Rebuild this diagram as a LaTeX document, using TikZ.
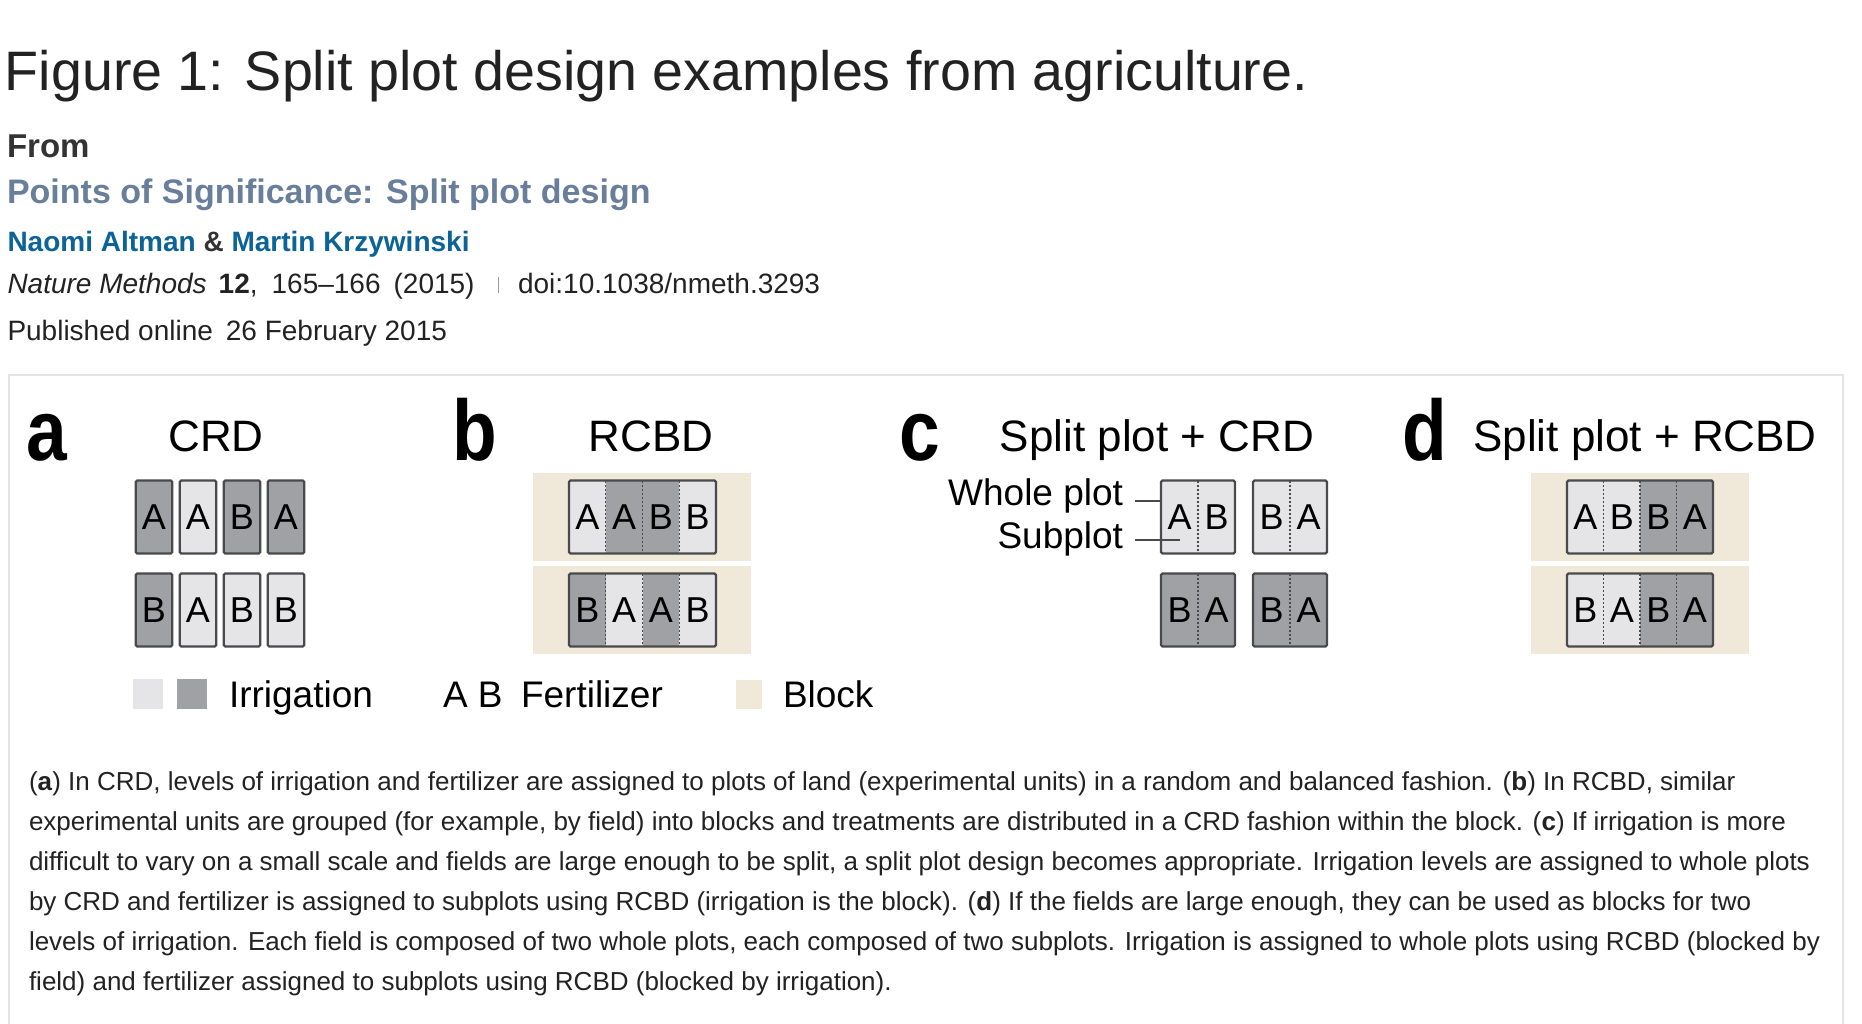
\documentclass[tikz,border=0pt]{standalone}
\usepackage{fontspec}
\setmainfont{Liberation Sans}
\newfontfamily\panelfont{Liberation Sans}[FakeStretch=0.85]
\usepackage{tikz}
\usetikzlibrary{positioning, calc}
\usepackage{xcolor}
\definecolor{inkgrey}{HTML}{222222}
\definecolor{fromgrey}{HTML}{333333}
\definecolor{slateblue}{HTML}{687E9B}
\definecolor{authorblue}{HTML}{0B6397}
\definecolor{sepgrey}{HTML}{9A9A9A}
\definecolor{framegrey}{HTML}{E4E4E4}
\definecolor{lowgrey}{HTML}{E5E5E7}
\definecolor{highgrey}{HTML}{A0A1A5}
\definecolor{cellline}{HTML}{4A4A4C}
\definecolor{blockbeige}{HTML}{F0E8D8}
\newcommand{\pxfont}[1]{\fontsize{#1}{#1}\selectfont}

\begin{document}
\begin{tikzpicture}[x=1pt, y=-1pt, every node/.style={inner sep=0pt, outer sep=0pt, text=inkgrey}]
    % Define styles
    \tikzset{
        plot/.style={rectangle, draw=cellline, line width=2.2pt, rounded corners=1.5pt, minimum width=36.5pt, minimum height=73pt, font=\pxfont{36}, text=black},
        lowplot/.style={plot, fill=lowgrey},
        highplot/.style={plot, fill=highgrey},
        sub/.style={rectangle, minimum width=36.75pt, minimum height=73pt, font=\pxfont{36}, text=black},
        lowsub/.style={sub, fill=lowgrey},
        highsub/.style={sub, fill=highgrey},
        border/.style={draw=cellline, line width=2.2pt, rounded corners=1.5pt},
        divider/.style={draw=cellline, line width=1.4pt, dash pattern=on 2pt off 2pt},
        leader/.style={draw=cellline, line width=1.8pt},
        block/.style={rectangle, fill=blockbeige, minimum width=218pt, minimum height=88pt},
        panel/.style={anchor=base west, font=\panelfont\bfseries\pxfont{86}, text=black},
        head/.style={anchor=base, font=\pxfont{44}, text=black},
        legsq/.style={rectangle, minimum size=30pt},
        legtext/.style={anchor=base west, font=\pxfont{37}, text=black},
        capline/.style={anchor=base west, font=\pxfont{26}}
    }

    \useasboundingbox (0,0) rectangle (1862,1024);
    \fill[white] (0,0) rectangle (1862,1024);

    % --- PAGE HEADER ---
    \node[anchor=base west, font=\pxfont{55.6}] (title) at (5,91) {Figure 1: Split plot design examples from agriculture.};
    \node[anchor=base west, font=\bfseries\pxfont{33}, text=fromgrey] (from) at (7,158) {From};
    \node[anchor=base west, font=\bfseries\pxfont{34}, text=slateblue] (paper) at (7,204) {Points of Significance: Split plot design};
    \node[anchor=base west, font=\bfseries\pxfont{28}, text=fromgrey] (authors) at (7.5,252) {\textcolor{authorblue}{Naomi Altman} \& \textcolor{authorblue}{Martin Krzywinski}};
    \node[anchor=base west, font=\pxfont{28}] (journal) at (7.5,293) {\textit{Nature Methods}\hspace{12pt}\textbf{12},\hspace{14pt}165--166\hspace{13pt}(2015)\hspace{23pt}\textcolor{sepgrey}{\rule{1.5pt}{16pt}}\hspace{19pt}doi:10.1038/nmeth.3293};
    \node[anchor=base west, font=\pxfont{28}] (published) at (7.5,340) {Published online\hspace{13pt}26 February 2015};

    % figure frame
    \draw[framegrey, line width=2pt] (9,1024) -- (9,375) -- (1843,375) -- (1843,1024);

    % --- PANEL A: CRD ---
    \node[panel] (la) at (26,460) {a};
    \node[head] (hcrd) at (216,451) {CRD};
    \node[highplot] (a11) at (154,517) {A};
    \node[lowplot, right=7.5pt of a11] (a12) {A};
    \node[highplot, right=7.5pt of a12] (a13) {B};
    \node[highplot, right=7.5pt of a13] (a14) {A};
    \node[highplot] (a21) at (154,610) {B};
    \node[lowplot, right=7.5pt of a21] (a22) {A};
    \node[lowplot, right=7.5pt of a22] (a23) {B};
    \node[lowplot, right=7.5pt of a23] (a24) {B};

    % --- PANEL B: RCBD ---
    \node[panel] (lb) at (452,460) {b};
    \node[head] (hrcbd) at (651,451) {RCBD};
    \node[block] (bblk1) at (642,517) {};
    \node[block] (bblk2) at (642,610) {};
    \node[lowsub] (b11) at (587.4,517) {A};
    \node[highsub, right=0pt of b11] (b12) {A};
    \node[highsub, right=0pt of b12] (b13) {B};
    \node[lowsub, right=0pt of b13] (b14) {B};
    \node[highsub] (b21) at (587.4,610) {B};
    \node[lowsub, right=0pt of b21] (b22) {A};
    \node[highsub, right=0pt of b22] (b23) {A};
    \node[lowsub, right=0pt of b23] (b24) {B};
    \foreach \r in {1,2}
        \foreach \c in {1,2,3}
            \draw[divider] (b\r\c.north east) -- (b\r\c.south east);
    \draw[border] (b11.north west) rectangle (b14.south east);
    \draw[border] (b21.north west) rectangle (b24.south east);

    % --- PANEL C: SPLIT PLOT + CRD ---
    \node[panel] (lc) at (899,460) {c};
    \node[head] (hspcrd) at (1157,451) {Split plot + CRD};
    \node[lowsub, minimum width=37pt] (c11) at (1179.5,517) {A};
    \node[lowsub, minimum width=37pt, right=0pt of c11] (c12) {B};
    \node[lowsub, minimum width=37pt] (c13) at (1271.5,517) {B};
    \node[lowsub, minimum width=37pt, right=0pt of c13] (c14) {A};
    \node[highsub, minimum width=37pt] (c21) at (1179.5,610) {B};
    \node[highsub, minimum width=37pt, right=0pt of c21] (c22) {A};
    \node[highsub, minimum width=37pt] (c23) at (1271.5,610) {B};
    \node[highsub, minimum width=37pt, right=0pt of c23] (c24) {A};
    \foreach \r in {1,2}
        \foreach \c in {1,3}
            \draw[divider] (c\r\c.north east) -- (c\r\c.south east);
    \draw[border] (c11.north west) rectangle (c12.south east);
    \draw[border] (c13.north west) rectangle (c14.south east);
    \draw[border] (c21.north west) rectangle (c22.south east);
    \draw[border] (c23.north west) rectangle (c24.south east);

    % labels for whole plot and subplot
    \node[anchor=base east, font=\pxfont{37}, text=black] (wplot) at (1123,505) {Whole plot};
    \node[anchor=base east, font=\pxfont{37}, text=black] (splot) at (1123,548) {Subplot};
    \draw[leader] ([xshift=12pt, yshift=4pt]wplot.base east) -- ([yshift=4pt]wplot.base east -| c11.west);
    \draw[leader] ([xshift=12pt, yshift=8pt]splot.base east) -- ([yshift=8pt]splot.base east -| c11.center);

    % --- PANEL D: SPLIT PLOT + RCBD ---
    \node[panel] (ld) at (1402,460) {d};
    \node[head] (hsprcbd) at (1645,451) {Split plot + RCBD};
    \node[block] (dblk1) at (1639.5,517) {};
    \node[block] (dblk2) at (1639.5,610) {};
    \node[lowsub, minimum width=36.5pt] (d11) at (1585.25,517) {A};
    \node[lowsub, minimum width=36.5pt, right=0pt of d11] (d12) {B};
    \node[highsub, minimum width=36.5pt, right=0pt of d12] (d13) {B};
    \node[highsub, minimum width=36.5pt, right=0pt of d13] (d14) {A};
    \node[lowsub, minimum width=36.5pt] (d21) at (1585.25,610) {B};
    \node[lowsub, minimum width=36.5pt, right=0pt of d21] (d22) {A};
    \node[highsub, minimum width=36.5pt, right=0pt of d22] (d23) {B};
    \node[highsub, minimum width=36.5pt, right=0pt of d23] (d24) {A};
    \foreach \r in {1,2}
        \foreach \c in {1,2,3}
            \draw[divider] (d\r\c.north east) -- (d\r\c.south east);
    \draw[border] (d11.north west) rectangle (d14.south east);
    \draw[border] (d21.north west) rectangle (d24.south east);

    % --- LEGEND ---
    \node[legsq, fill=lowgrey] (leglow) at (148,694) {};
    \node[legsq, fill=highgrey, right=14pt of leglow] (leghigh) {};
    \node[legtext] (legirr) at (229,707) {Irrigation};
    \node[legtext] (legab) at (443,707) {A B};
    \node[legtext] (legfert) at (521,707) {Fertilizer};
    \node[legsq, fill=blockbeige, minimum width=26pt, minimum height=29pt] (legblk) at (749,694.5) {};
    \node[legtext] (legblock) at (783,707) {Block};

    % --- CAPTION ---
    \node[capline] (cap1) at (29,790) {(\textbf{a}) In CRD, levels of irrigation and fertilizer are assigned to plots of land (experimental units) in a random and balanced fashion. (\textbf{b}) In RCBD, similar};
    \node[capline] (cap2) at (29,830) {experimental units are grouped (for example, by field) into blocks and treatments are distributed in a CRD fashion within the block. (\textbf{c}) If irrigation is more};
    \node[capline] (cap3) at (29,870) {difficult to vary on a small scale and fields are large enough to be split, a split plot design becomes appropriate. Irrigation levels are assigned to whole plots};
    \node[capline] (cap4) at (29,910) {by CRD and fertilizer is assigned to subplots using RCBD (irrigation is the block). (\textbf{d}) If the fields are large enough, they can be used as blocks for two};
    \node[capline] (cap5) at (29,950) {levels of irrigation. Each field is composed of two whole plots, each composed of two subplots. Irrigation is assigned to whole plots using RCBD (blocked by};
    \node[capline] (cap6) at (29,990) {field) and fertilizer assigned to subplots using RCBD (blocked by irrigation).};
\end{tikzpicture}
\end{document}
